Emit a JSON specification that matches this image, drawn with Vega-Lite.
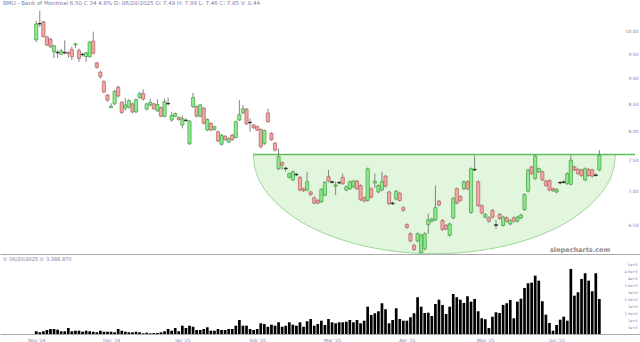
{
  "$schema": "https://vega.github.io/schema/vega-lite/v6.json",
  "padding": 0,
  "background": "white",
  "spacing": 0,
  "config": {"view": {"stroke": null}, "font": "DejaVu Sans"},
  "datasets": {
    "ohlc": [
      {"i":0,"o":9.81,"h":10.23,"l":9.76,"c":10.16,"v":196000},
      {"i":1,"o":10.16,"h":10.46,"l":10.09,"c":10.17,"v":123000},
      {"i":2,"o":10.21,"h":10.23,"l":9.86,"c":9.88,"v":196000},
      {"i":3,"o":9.87,"h":9.90,"l":9.67,"c":9.70,"v":290000},
      {"i":4,"o":9.82,"h":9.85,"l":9.63,"c":9.66,"v":363000},
      {"i":5,"o":9.55,"h":9.70,"l":9.42,"c":9.68,"v":363000},
      {"i":6,"o":9.54,"h":9.59,"l":9.42,"c":9.53,"v":312000},
      {"i":7,"o":9.50,"h":9.61,"l":9.48,"c":9.57,"v":196000},
      {"i":8,"o":9.53,"h":9.80,"l":9.50,"c":9.54,"v":196000},
      {"i":9,"o":9.54,"h":9.56,"l":9.42,"c":9.51,"v":435000},
      {"i":10,"o":9.60,"h":9.66,"l":9.38,"c":9.45,"v":196000},
      {"i":11,"o":9.70,"h":9.75,"l":9.63,"c":9.72,"v":239000},
      {"i":12,"o":9.58,"h":9.62,"l":9.34,"c":9.41,"v":239000},
      {"i":13,"o":9.50,"h":9.53,"l":9.45,"c":9.49,"v":167000},
      {"i":14,"o":9.45,"h":9.55,"l":9.34,"c":9.53,"v":239000},
      {"i":15,"o":9.45,"h":9.78,"l":9.43,"c":9.76,"v":196000},
      {"i":16,"o":9.78,"h":9.99,"l":9.50,"c":9.52,"v":167000},
      {"i":17,"o":9.32,"h":9.34,"l":9.20,"c":9.23,"v":123000},
      {"i":18,"o":9.13,"h":9.16,"l":9.00,"c":9.04,"v":239000},
      {"i":19,"o":8.94,"h":8.97,"l":8.71,"c":8.74,"v":167000},
      {"i":20,"o":8.68,"h":8.70,"l":8.55,"c":8.58,"v":167000},
      {"i":21,"o":8.44,"h":8.52,"l":8.43,"c":8.47,"v":167000},
      {"i":22,"o":8.51,"h":8.78,"l":8.49,"c":8.75,"v":123000},
      {"i":23,"o":8.83,"h":8.86,"l":8.63,"c":8.66,"v":363000},
      {"i":24,"o":8.54,"h":8.56,"l":8.32,"c":8.35,"v":239000},
      {"i":25,"o":8.43,"h":8.62,"l":8.39,"c":8.49,"v":167000},
      {"i":26,"o":8.45,"h":8.60,"l":8.42,"c":8.57,"v":123000},
      {"i":27,"o":8.51,"h":8.53,"l":8.33,"c":8.36,"v":123000},
      {"i":28,"o":8.36,"h":8.61,"l":8.34,"c":8.59,"v":167000},
      {"i":29,"o":8.63,"h":8.74,"l":8.61,"c":8.70,"v":123000},
      {"i":30,"o":8.71,"h":8.79,"l":8.57,"c":8.60,"v":51000},
      {"i":31,"o":8.41,"h":8.53,"l":8.39,"c":8.51,"v":94000},
      {"i":32,"o":8.49,"h":8.61,"l":8.46,"c":8.54,"v":51000},
      {"i":33,"o":8.51,"h":8.53,"l":8.40,"c":8.42,"v":73000},
      {"i":34,"o":8.38,"h":8.60,"l":8.36,"c":8.50,"v":73000},
      {"i":35,"o":8.44,"h":8.46,"l":8.26,"c":8.28,"v":123000},
      {"i":36,"o":8.28,"h":8.61,"l":8.26,"c":8.55,"v":196000},
      {"i":37,"o":8.51,"h":8.63,"l":8.48,"c":8.52,"v":363000},
      {"i":38,"o":8.21,"h":8.36,"l":8.18,"c":8.29,"v":239000},
      {"i":39,"o":8.28,"h":8.35,"l":8.26,"c":8.33,"v":435000},
      {"i":40,"o":8.26,"h":8.28,"l":8.20,"c":8.22,"v":196000},
      {"i":41,"o":8.12,"h":8.30,"l":8.06,"c":8.24,"v":602000},
      {"i":42,"o":8.21,"h":8.24,"l":8.18,"c":8.20,"v":435000},
      {"i":43,"o":7.79,"h":8.21,"l":7.77,"c":8.19,"v":602000},
      {"i":44,"o":8.46,"h":8.72,"l":8.43,"c":8.63,"v":529000},
      {"i":45,"o":8.46,"h":8.48,"l":8.26,"c":8.28,"v":290000},
      {"i":46,"o":8.28,"h":8.51,"l":8.26,"c":8.49,"v":290000},
      {"i":47,"o":8.43,"h":8.45,"l":8.13,"c":8.15,"v":363000},
      {"i":48,"o":8.03,"h":8.24,"l":8.01,"c":8.22,"v":486000},
      {"i":49,"o":8.15,"h":8.17,"l":8.01,"c":8.03,"v":239000},
      {"i":50,"o":8.04,"h":8.11,"l":8.02,"c":8.09,"v":239000},
      {"i":51,"o":8.00,"h":8.02,"l":7.82,"c":7.84,"v":363000},
      {"i":52,"o":7.78,"h":7.96,"l":7.76,"c":7.94,"v":290000},
      {"i":53,"o":7.92,"h":7.94,"l":7.84,"c":7.86,"v":290000},
      {"i":54,"o":7.82,"h":7.90,"l":7.80,"c":7.88,"v":363000},
      {"i":55,"o":7.94,"h":7.96,"l":7.84,"c":7.86,"v":363000},
      {"i":56,"o":7.90,"h":8.20,"l":7.88,"c":8.18,"v":602000},
      {"i":57,"o":8.21,"h":8.58,"l":8.19,"c":8.31,"v":1015000},
      {"i":58,"o":8.34,"h":8.49,"l":8.32,"c":8.42,"v":602000},
      {"i":59,"o":8.41,"h":8.43,"l":8.12,"c":8.14,"v":602000},
      {"i":60,"o":8.16,"h":8.24,"l":8.00,"c":8.17,"v":363000},
      {"i":61,"o":8.12,"h":8.14,"l":8.05,"c":8.07,"v":290000},
      {"i":62,"o":8.09,"h":8.11,"l":8.01,"c":8.03,"v":363000},
      {"i":63,"o":8.04,"h":8.06,"l":7.71,"c":7.74,"v":776000},
      {"i":64,"o":7.79,"h":8.04,"l":7.77,"c":8.02,"v":725000},
      {"i":65,"o":8.34,"h":8.42,"l":8.16,"c":8.18,"v":529000},
      {"i":66,"o":7.97,"h":7.99,"l":7.84,"c":7.86,"v":674000},
      {"i":67,"o":7.80,"h":7.82,"l":7.66,"c":7.68,"v":602000},
      {"i":68,"o":7.37,"h":7.71,"l":7.35,"c":7.57,"v":848000},
      {"i":69,"o":7.47,"h":7.49,"l":7.35,"c":7.43,"v":529000},
      {"i":70,"o":7.37,"h":7.40,"l":7.32,"c":7.38,"v":602000},
      {"i":71,"o":7.23,"h":7.31,"l":7.21,"c":7.29,"v":848000},
      {"i":72,"o":7.19,"h":7.34,"l":7.17,"c":7.32,"v":674000},
      {"i":73,"o":7.28,"h":7.30,"l":7.25,"c":7.27,"v":602000},
      {"i":74,"o":7.23,"h":7.25,"l":7.01,"c":7.03,"v":848000},
      {"i":75,"o":7.05,"h":7.07,"l":7.00,"c":7.02,"v":529000},
      {"i":76,"o":7.03,"h":7.32,"l":7.01,"c":7.16,"v":921000},
      {"i":77,"o":7.00,"h":7.02,"l":6.94,"c":6.96,"v":1088000},
      {"i":78,"o":6.91,"h":6.93,"l":6.81,"c":6.83,"v":602000},
      {"i":79,"o":6.87,"h":6.89,"l":6.81,"c":6.83,"v":725000},
      {"i":80,"o":6.85,"h":7.06,"l":6.83,"c":7.04,"v":964000},
      {"i":81,"o":6.95,"h":7.17,"l":6.93,"c":7.15,"v":653000},
      {"i":82,"o":7.24,"h":7.35,"l":7.15,"c":7.17,"v":1088000},
      {"i":83,"o":7.16,"h":7.18,"l":7.13,"c":7.15,"v":848000},
      {"i":84,"o":7.09,"h":7.16,"l":6.95,"c":7.11,"v":776000},
      {"i":85,"o":7.15,"h":7.17,"l":7.12,"c":7.14,"v":848000},
      {"i":86,"o":7.23,"h":7.29,"l":7.11,"c":7.13,"v":848000},
      {"i":87,"o":7.03,"h":7.10,"l":7.01,"c":7.08,"v":892000},
      {"i":88,"o":7.05,"h":7.18,"l":7.03,"c":7.16,"v":1015000},
      {"i":89,"o":7.08,"h":7.19,"l":7.06,"c":7.17,"v":848000},
      {"i":90,"o":7.17,"h":7.19,"l":7.03,"c":7.05,"v":1015000},
      {"i":91,"o":7.10,"h":7.12,"l":6.86,"c":6.88,"v":776000},
      {"i":92,"o":6.91,"h":6.93,"l":6.84,"c":6.86,"v":964000},
      {"i":93,"o":6.87,"h":7.39,"l":6.85,"c":7.37,"v":1979000},
      {"i":94,"o":7.05,"h":7.07,"l":6.90,"c":6.92,"v":1378000},
      {"i":95,"o":7.14,"h":7.29,"l":7.06,"c":7.17,"v":1501000},
      {"i":96,"o":7.00,"h":7.12,"l":6.98,"c":7.10,"v":1646000},
      {"i":97,"o":7.03,"h":7.32,"l":7.01,"c":7.16,"v":2226000},
      {"i":98,"o":7.25,"h":7.27,"l":7.07,"c":7.09,"v":1791000},
      {"i":99,"o":7.00,"h":7.02,"l":6.80,"c":6.82,"v":776000},
      {"i":100,"o":6.83,"h":6.85,"l":6.80,"c":6.82,"v":1015000},
      {"i":101,"o":6.89,"h":7.03,"l":6.87,"c":7.01,"v":1863000},
      {"i":102,"o":6.98,"h":7.00,"l":6.85,"c":6.87,"v":1088000},
      {"i":103,"o":6.76,"h":6.78,"l":6.70,"c":6.72,"v":964000},
      {"i":104,"o":6.51,"h":6.53,"l":6.45,"c":6.47,"v":964000},
      {"i":105,"o":6.38,"h":6.40,"l":6.26,"c":6.28,"v":1211000},
      {"i":106,"o":6.22,"h":6.24,"l":6.14,"c":6.16,"v":1501000},
      {"i":107,"o":6.28,"h":6.40,"l":6.26,"c":6.38,"v":2661000},
      {"i":108,"o":6.12,"h":6.38,"l":6.11,"c":6.36,"v":1979000},
      {"i":109,"o":6.17,"h":6.40,"l":6.15,"c":6.38,"v":1523000},
      {"i":110,"o":6.51,"h":6.67,"l":6.38,"c":6.58,"v":1544000},
      {"i":111,"o":6.56,"h":6.61,"l":6.54,"c":6.59,"v":1305000},
      {"i":112,"o":6.58,"h":7.10,"l":6.56,"c":6.76,"v":2175000},
      {"i":113,"o":6.86,"h":6.88,"l":6.78,"c":6.80,"v":2487000},
      {"i":114,"o":6.57,"h":6.59,"l":6.42,"c":6.44,"v":2103000},
      {"i":115,"o":6.50,"h":6.52,"l":6.43,"c":6.45,"v":1450000},
      {"i":116,"o":6.36,"h":6.54,"l":6.34,"c":6.52,"v":1979000},
      {"i":117,"o":6.61,"h":6.92,"l":6.59,"c":6.90,"v":2900000},
      {"i":118,"o":7.05,"h":7.07,"l":6.81,"c":6.83,"v":2661000},
      {"i":119,"o":6.93,"h":6.95,"l":6.85,"c":6.87,"v":2487000},
      {"i":120,"o":7.05,"h":7.18,"l":7.03,"c":7.16,"v":2248000},
      {"i":121,"o":7.16,"h":7.18,"l":7.03,"c":7.05,"v":2733000},
      {"i":122,"o":6.69,"h":7.39,"l":6.67,"c":7.37,"v":2342000},
      {"i":123,"o":7.36,"h":7.59,"l":7.33,"c":7.35,"v":2538000},
      {"i":124,"o":7.16,"h":7.18,"l":6.77,"c":6.79,"v":1646000},
      {"i":125,"o":6.79,"h":6.81,"l":6.66,"c":6.68,"v":1138000},
      {"i":126,"o":6.62,"h":6.68,"l":6.60,"c":6.66,"v":1066000},
      {"i":127,"o":6.61,"h":6.63,"l":6.54,"c":6.56,"v":435000},
      {"i":128,"o":6.72,"h":6.74,"l":6.60,"c":6.62,"v":1254000},
      {"i":129,"o":6.51,"h":6.58,"l":6.45,"c":6.50,"v":1573000},
      {"i":130,"o":6.66,"h":6.68,"l":6.58,"c":6.60,"v":1523000},
      {"i":131,"o":6.50,"h":6.64,"l":6.48,"c":6.62,"v":2103000},
      {"i":132,"o":6.61,"h":6.63,"l":6.54,"c":6.56,"v":2226000},
      {"i":133,"o":6.52,"h":6.59,"l":6.50,"c":6.57,"v":2465000},
      {"i":134,"o":6.61,"h":6.63,"l":6.54,"c":6.56,"v":1138000},
      {"i":135,"o":6.56,"h":6.64,"l":6.54,"c":6.62,"v":2342000},
      {"i":136,"o":6.61,"h":6.67,"l":6.59,"c":6.65,"v":2559000},
      {"i":137,"o":6.73,"h":6.98,"l":6.71,"c":6.96,"v":3335000},
      {"i":138,"o":7.01,"h":7.37,"l":6.99,"c":7.35,"v":3676000},
      {"i":139,"o":7.40,"h":7.42,"l":7.27,"c":7.29,"v":3719000},
      {"i":140,"o":7.21,"h":7.60,"l":7.19,"c":7.58,"v":4227000},
      {"i":141,"o":7.32,"h":7.39,"l":7.30,"c":7.37,"v":3864000},
      {"i":142,"o":7.32,"h":7.34,"l":7.17,"c":7.19,"v":2371000},
      {"i":143,"o":7.17,"h":7.19,"l":7.08,"c":7.10,"v":1399000},
      {"i":144,"o":7.18,"h":7.20,"l":7.01,"c":7.03,"v":798000},
      {"i":145,"o":7.05,"h":7.07,"l":7.00,"c":7.02,"v":239000},
      {"i":146,"o":7.00,"h":7.06,"l":6.98,"c":7.04,"v":653000},
      {"i":147,"o":7.15,"h":7.17,"l":7.12,"c":7.14,"v":1037000},
      {"i":148,"o":7.16,"h":7.18,"l":7.13,"c":7.15,"v":1254000},
      {"i":149,"o":7.13,"h":7.31,"l":7.11,"c":7.29,"v":964000},
      {"i":150,"o":7.12,"h":7.59,"l":7.10,"c":7.51,"v":4713000},
      {"i":151,"o":7.40,"h":7.42,"l":7.33,"c":7.35,"v":2777000},
      {"i":152,"o":7.36,"h":7.38,"l":7.27,"c":7.29,"v":3023000},
      {"i":153,"o":7.35,"h":7.37,"l":7.24,"c":7.26,"v":3988000},
      {"i":154,"o":7.19,"h":7.39,"l":7.17,"c":7.37,"v":4401000},
      {"i":155,"o":7.36,"h":7.38,"l":7.24,"c":7.26,"v":3864000},
      {"i":156,"o":7.35,"h":7.37,"l":7.23,"c":7.25,"v":3096000},
      {"i":157,"o":7.27,"h":7.29,"l":7.24,"c":7.26,"v":4401000},
      {"i":158,"o":7.35,"h":7.68,"l":7.33,"c":7.59,"v":2538000}
    ],
    "bowl": [
      {"i":60.9,"p":7.606,"top":7.606},
      {"i":61.2,"p":7.441,"top":7.606},
      {"i":61.9,"p":7.280,"top":7.606},
      {"i":63.4,"p":7.101,"top":7.606},
      {"i":66.0,"p":6.910,"top":7.606},
      {"i":71.1,"p":6.665,"top":7.606},
      {"i":76.1,"p":6.500,"top":7.606},
      {"i":81.2,"p":6.378,"top":7.606},
      {"i":86.3,"p":6.287,"top":7.606},
      {"i":91.4,"p":6.216,"top":7.606},
      {"i":96.5,"p":6.167,"top":7.606},
      {"i":101.5,"p":6.131,"top":7.606},
      {"i":106.6,"p":6.111,"top":7.606},
      {"i":111.7,"p":6.104,"top":7.606},
      {"i":116.8,"p":6.111,"top":7.606},
      {"i":121.9,"p":6.131,"top":7.606},
      {"i":126.9,"p":6.167,"top":7.606},
      {"i":132.0,"p":6.216,"top":7.606},
      {"i":137.1,"p":6.287,"top":7.606},
      {"i":142.2,"p":6.378,"top":7.606},
      {"i":147.3,"p":6.500,"top":7.606},
      {"i":152.3,"p":6.665,"top":7.606},
      {"i":157.4,"p":6.910,"top":7.606},
      {"i":160.0,"p":7.101,"top":7.606},
      {"i":161.5,"p":7.280,"top":7.606},
      {"i":162.2,"p":7.441,"top":7.606},
      {"i":162.5,"p":7.606,"top":7.606}
    ],
    "level": [{"i1":60.9,"i2":168.0,"p":7.606}],
    "brand": [{"i":152.6,"p":6.16,"t":"slopecharts.com"}]
  },
  "vconcat": [
    {
      "width": 640,
      "height": 244,
      "title": {"text": "BMO - Bank of Montreal  6.50  C 34  4.8%  D: 06/20/2025  O: 7.49  H: 7.89  L: 7.46  C: 7.85  V: 0.44", "anchor": "start", "frame": "group", "fontSize": 5.5, "fontWeight": "normal", "color": "#7a7aa8", "offset": 4, "dx": 3},
      "layer": [
        {
          "data": {"name": "bowl"},
          "mark": {"type": "area", "color": "#dff5d9", "opacity": 0.9, "interpolate": "monotone", "line": {"color": "#9fd69a", "strokeWidth": 1}},
          "encoding": {
            "x": {"field": "i", "type": "quantitative", "scale": {"domain": [-8.76, 168.0], "nice": false, "zero": false},
                  "axis": {"labels": false, "ticks": false, "title": null, "grid": false, "domainColor": "#aaaaaa", "domainWidth": 1}},
            "y": {"field": "p", "type": "quantitative", "scale": {"type": "log", "domain": [6.10, 10.48], "nice": false},
                  "axis": {"orient": "right", "values": [6.5, 7, 7.5, 8, 8.5, 9, 9.5, 10], "format": ".2f", "offset": -2, "labelAlign": "right", "labelPadding": 0, "domain": false, "ticks": false, "grid": false, "title": null, "labelFontSize": 4.5, "labelColor": "#7a7aa8"}},
            "y2": {"field": "top"}
          }
        },
        {
          "data": {"name": "level"},
          "mark": {"type": "rule", "color": "#5cbf5c", "strokeWidth": 1.6},
          "encoding": {
            "x": {"field": "i1", "type": "quantitative"},
            "x2": {"field": "i2"},
            "y": {"field": "p", "type": "quantitative"}
          }
        },
        {
          "data": {"name": "ohlc"},
          "mark": {"type": "rule", "color": "#666666", "strokeWidth": 0.8},
          "encoding": {
            "x": {"field": "i", "type": "quantitative"},
            "y": {"field": "l", "type": "quantitative"},
            "y2": {"field": "h"}
          }
        },
        {
          "data": {"name": "ohlc"},
          "transform": [{"calculate": "abs(datum.c - datum.o) < 0.015 ? 'flat' : (datum.c > datum.o ? 'up' : 'down')", "as": "dir"}],
          "mark": {"type": "bar", "size": 3.2, "strokeWidth": 0.7},
          "encoding": {
            "x": {"field": "i", "type": "quantitative"},
            "y": {"field": "o", "type": "quantitative"},
            "y2": {"field": "c"},
            "fill": {"field": "dir", "type": "nominal", "scale": {"domain": ["up", "down", "flat"], "range": ["#8fe88f", "#f2a8a2", "#333333"]}, "legend": null},
            "stroke": {"field": "dir", "type": "nominal", "scale": {"domain": ["up", "down", "flat"], "range": ["#3f9f3f", "#b06060", "#222222"]}, "legend": null}
          }
        },
        {
          "data": {"name": "brand"},
          "mark": {"type": "text", "fontSize": 6.5, "fontWeight": "bold", "color": "#8a8a8a", "align": "center", "baseline": "middle"},
          "encoding": {
            "x": {"field": "i", "type": "quantitative"},
            "y": {"field": "p", "type": "quantitative"},
            "text": {"field": "t"}
          }
        }
      ]
    },
    {
      "width": 640,
      "height": 70,
      "title": {"text": "V: 06/20/2025  V: 3,388,870", "anchor": "start", "frame": "group", "fontSize": 5, "fontWeight": "normal", "color": "#7a7aa8", "offset": 1, "dx": 3},
      "data": {"name": "ohlc"},
      "mark": {"type": "bar", "size": 2.7, "color": "#000000"},
      "encoding": {
        "x": {"field": "i", "type": "quantitative", "scale": {"domain": [-8.76, 168.0], "nice": false, "zero": false},
              "axis": {"values": [0, 21, 41, 62, 83, 104, 126, 146], "labelExpr": "datum.value == 0 ? \"Nov '24\" : datum.value == 21 ? \"Dec '24\" : datum.value == 41 ? \"Jan '25\" : datum.value == 62 ? \"Feb '25\" : datum.value == 83 ? \"Mar '25\" : datum.value == 104 ? \"Apr '25\" : datum.value == 126 ? \"May '25\" : \"Jun '25\"", "ticks": false, "labelPadding": 3, "labelFontSize": 4.5, "labelColor": "#7a7aa8", "domainColor": "#aaaaaa", "title": null, "grid": false}},
        "y": {"field": "v", "type": "quantitative", "scale": {"domain": [0, 5070000], "nice": false},
              "axis": {"orient": "right", "values": [500000, 1000000, 1500000, 2000000, 2500000, 3000000, 3500000, 4000000, 4500000, 5000000], "format": ",", "offset": -3, "labelAlign": "right", "labelPadding": 0, "domain": false, "ticks": false, "grid": false, "title": null, "labelFontSize": 3.5, "labelColor": "#7a7aa8"}}
      }
    }
  ]
}
